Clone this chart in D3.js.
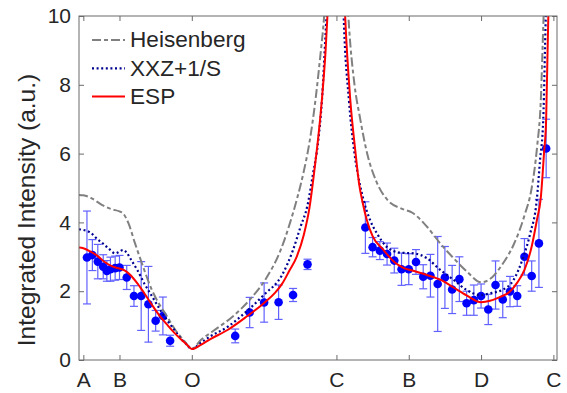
<!DOCTYPE html>
<html>
<head>
<meta charset="utf-8">
<script src="https://cdn.jsdelivr.net/npm/d3@7"></script>
<style>
  body { margin: 0; background: #fff; }
  svg text { font-family: "Liberation Sans", Arial, sans-serif; fill: #262626; }
</style>
</head>
<body>
<svg id="chart" width="567" height="393"></svg>
<script>
// path position (A=0, B=1, O=3, C=7, B=9, D=11, C=13)
const tickPos = [0, 1, 3, 7, 9, 11, 13];
const tickNames = ["A", "B", "O", "C", "B", "D", "C"];
const yTicks = [0, 2, 4, 6, 8, 10];

// measured intensities
const ptX = [0.1, 0.25, 0.4, 0.55, 0.65, 0.75, 0.88, 1.0, 1.2, 1.4, 1.6, 1.8, 2.0, 2.2, 2.4,
  4.2, 4.6, 5.0, 5.4, 5.8, 6.2,
  7.8, 8.0, 8.2, 8.4, 8.6, 8.8, 9.0, 9.2, 9.4, 9.6, 9.8, 10.0, 10.2, 10.4, 10.6, 10.8,
  11.0, 11.2, 11.4, 11.6, 11.8, 12.0, 12.2, 12.4, 12.6, 12.8];
const ptY = [2.98, 3.05, 2.86, 2.71, 2.59, 2.64, 2.67, 2.69, 2.40, 1.86, 1.86, 1.62, 1.14, 1.28, 0.56,
  0.70, 1.38, 1.67, 1.68, 1.89, 2.78,
  3.85, 3.28, 3.18, 3.08, 2.89, 2.64, 2.64, 2.85, 2.42, 2.45, 2.21, 2.40, 2.05, 2.35, 1.65, 1.74,
  1.86, 1.47, 2.18, 1.76, 1.99, 1.86, 3.00, 2.44, 3.39, 6.15];
const ptErr = [1.35, 0.45, 0.5, 0.35, 0.3, 0.35, 0.35, 0.35, 0.35, 0.3, 1.0, 1.1, 0.3, 0.55, 0.16,
  0.2, 0.44, 0.57, 0.5, 0.19, 0.15,
  0.75, 0.28, 0.26, 0.32, 0.36, 0.47, 0.45, 0.36, 0.35, 0.62, 1.38, 0.9, 0.7, 0.65, 0.35, 0.44,
  0.35, 0.44, 0.7, 0.53, 0.44, 0.3, 0.53, 0.44, 1.28, 0.85];

// model curves [position, intensity]; null splits the branches at C
const heisenberg = [[-0.12, 4.8], [0, 4.79], [0.23, 4.7], [0.5, 4.52], [0.79, 4.38], [1.0, 4.32], [1.1, 4.26],
  [1.25, 3.97], [1.43, 3.39], [1.62, 2.81], [1.89, 2.05], [2.1, 1.62], [2.26, 1.36], [2.54, 0.88], [2.81, 0.53],
  [3.0, 0.32], [3.25, 0.58], [3.6, 0.85], [4.15, 1.28], [4.61, 1.76], [5.07, 2.4], [5.44, 3.15], [5.72, 4.0],
  [5.9, 4.65], [6.1, 5.5], [6.25, 6.3], [6.42, 7.56], [6.55, 8.8], [6.66, 10], [6.72, 11], null,
  [7.28, 11], [7.33, 10], [7.5, 8.0], [7.65, 7.05], [7.85, 6.0], [8.1, 5.2], [8.44, 4.62], [8.8, 4.4],
  [9.1, 4.28], [9.5, 3.88], [9.87, 3.39], [10.24, 2.96], [10.61, 2.57], [11.0, 2.26], [11.3, 2.4],
  [11.6, 2.8], [11.9, 3.35], [12.2, 4.2], [12.4, 5.0], [12.55, 6.2], [12.65, 7.5], [12.73, 10], [12.77, 11]];
const xxz = [[-0.12, 3.8], [0, 3.78], [0.2, 3.7], [0.4, 3.5], [0.55, 3.38], [0.7, 3.24], [0.88, 3.1],
  [1.0, 3.15], [1.1, 3.2], [1.2, 3.12], [1.3, 2.95], [1.5, 2.6], [1.7, 2.2], [1.9, 1.85], [2.1, 1.5],
  [2.3, 1.18], [2.5, 0.9], [2.7, 0.62], [2.85, 0.46], [3.0, 0.32], [3.25, 0.5], [3.5, 0.68], [4.0, 0.97],
  [4.5, 1.4], [5.0, 1.9], [5.5, 2.48], [5.8, 3.2], [6.0, 3.85], [6.2, 4.5], [6.35, 5.4], [6.5, 6.4],
  [6.6, 7.56], [6.7, 9.5], [6.74, 10.3], [6.78, 11], null,
  [7.17, 11], [7.2, 10], [7.35, 7.5], [7.5, 6.0], [7.65, 5.1], [7.75, 4.65], [7.93, 4.07], [8.12, 3.68],
  [8.39, 3.29], [8.76, 3.12], [9.13, 3.1], [9.5, 2.96], [9.87, 2.62], [10.24, 2.33], [10.61, 2.03],
  [10.97, 1.89], [11.3, 1.95], [11.55, 2.02], [11.9, 2.33], [12.17, 3.0], [12.36, 3.68], [12.54, 4.65],
  [12.63, 5.8], [12.72, 7.0], [12.79, 10], [12.82, 11]];
const esp = [[-0.12, 3.27], [0, 3.25], [0.2, 3.15], [0.4, 3.02], [0.6, 2.84], [0.8, 2.72], [1.0, 2.66],
  [1.15, 2.6], [1.3, 2.47], [1.5, 2.22], [1.7, 1.92], [1.9, 1.6], [2.1, 1.3], [2.3, 1.05], [2.5, 0.81],
  [2.7, 0.6], [2.85, 0.46], [3.0, 0.32], [3.25, 0.44], [3.5, 0.6], [4.0, 0.88], [4.5, 1.25], [5.0, 1.66],
  [5.3, 1.95], [5.5, 2.22], [5.7, 2.6], [5.9, 3.0], [6.1, 3.65], [6.25, 4.4], [6.4, 5.6], [6.5, 6.5],
  [6.6, 7.6], [6.7, 9.0], [6.76, 10.2], [6.8, 11], null,
  [7.2, 11], [7.24, 10], [7.38, 7.6], [7.52, 6.1], [7.63, 5.1], [7.72, 4.6], [7.84, 4.07], [8.0, 3.6],
  [8.3, 3.2], [8.6, 2.85], [8.85, 2.68], [9.1, 2.6], [9.5, 2.47], [9.9, 2.32], [10.25, 2.1], [10.6, 1.88],
  [11.0, 1.68], [11.25, 1.72], [11.5, 1.82], [11.8, 1.99], [12.0, 2.25], [12.2, 2.62], [12.4, 3.3],
  [12.55, 4.1], [12.65, 4.7], [12.74, 6.0], [12.8, 7.0], [12.86, 10], [12.9, 11]];

const svg = d3.select("#chart");
const mLeft = 79, mRight = 557, mTop = 16, mBottom = 360;

const x = d3.scaleLinear().domain([-0.12, 13.1]).range([mLeft, mRight]);
const y = d3.scaleLinear().domain([0, 10]).range([mBottom, mTop]);

svg.append("clipPath").attr("id", "plotclip")
  .append("rect").attr("x", mLeft).attr("y", mTop)
  .attr("width", mRight - mLeft).attr("height", mBottom - mTop);

// error bars and points
const pts = ptX.map((d, i) => ({ x: d, y: ptY[i], e: ptErr[i] }));
const eb = svg.append("g").attr("stroke", "#4646ff").attr("stroke-width", 1.2).attr("opacity", 0.85);
pts.forEach(p => {
  eb.append("line").attr("x1", x(p.x)).attr("x2", x(p.x)).attr("y1", y(p.y - p.e)).attr("y2", y(p.y + p.e));
  eb.append("line").attr("x1", x(p.x) - 4).attr("x2", x(p.x) + 4).attr("y1", y(p.y - p.e)).attr("y2", y(p.y - p.e));
  eb.append("line").attr("x1", x(p.x) - 4).attr("x2", x(p.x) + 4).attr("y1", y(p.y + p.e)).attr("y2", y(p.y + p.e));
});
svg.append("g").selectAll("circle").data(pts).enter().append("circle")
  .attr("cx", d => x(d.x)).attr("cy", d => y(d.y)).attr("r", 4.3)
  .attr("fill", "#0000ff");

// model lines
const line = d3.line()
  .defined(d => d != null)
  .x(d => x(d[0])).y(d => y(d[1]))
  .curve(d3.curveMonotoneX);

const series = [
  { name: "Heisenberg", data: heisenberg, color: "#808080", dash: "9,3,4,3", w: 2 },
  { name: "XXZ+1/S", data: xxz, color: "#000090", dash: "2,2.6", w: 2.2 },
  { name: "ESP", data: esp, color: "#ff0000", dash: null, w: 2 }
];
const lines = svg.append("g").attr("clip-path", "url(#plotclip)");
series.forEach(s => {
  lines.append("path").attr("d", line(s.data))
    .attr("fill", "none").attr("stroke", s.color).attr("stroke-width", s.w)
    .attr("stroke-dasharray", s.dash);
});

// axes box with inward ticks
const axisColor = "#6b6b6b";
const gx = svg.append("g").attr("transform", `translate(0,${mBottom})`)
  .call(d3.axisBottom(x).tickValues(tickPos).tickFormat((d, i) => tickNames[i])
    .tickSize(-5).tickSizeOuter(0).tickPadding(12));
const gxt = svg.append("g").attr("transform", `translate(0,${mTop})`)
  .call(d3.axisTop(x).tickValues(tickPos).tickFormat("").tickSize(-5).tickSizeOuter(0));
const gy = svg.append("g").attr("transform", `translate(${mLeft},0)`)
  .call(d3.axisLeft(y).tickValues(yTicks).tickSize(-5).tickSizeOuter(0).tickPadding(8));
const gyr = svg.append("g").attr("transform", `translate(${mRight},0)`)
  .call(d3.axisRight(y).tickValues(yTicks).tickFormat("").tickSize(-5).tickSizeOuter(0));
[gx, gxt, gy, gyr].forEach(g => {
  g.select(".domain").remove();
  g.selectAll("line").attr("stroke", axisColor);
  g.selectAll("text").attr("font-size", 21).attr("fill", "#262626")
    .style("font-family", "'Liberation Sans', Arial, sans-serif");
});
svg.append("rect").attr("x", mLeft).attr("y", mTop)
  .attr("width", mRight - mLeft).attr("height", mBottom - mTop)
  .attr("fill", "none").attr("stroke", axisColor).attr("stroke-width", 1);

// y label
svg.append("text")
  .attr("transform", "translate(35,210) rotate(-90)")
  .attr("text-anchor", "middle")
  .attr("font-size", 24.5)
  .text("Integrated Intensity (a.u.)");

// legend
const leg = svg.append("g");
series.forEach((s, i) => {
  const ly = 40 + i * 28.3;
  leg.append("line").attr("x1", 92).attr("x2", 125).attr("y1", ly).attr("y2", ly)
    .attr("stroke", s.color).attr("stroke-width", s.w).attr("stroke-dasharray", s.dash);
  leg.append("text").attr("x", 130).attr("y", ly + 7.3).attr("font-size", 22.6).text(s.name);
});
</script>
</body>
</html>
